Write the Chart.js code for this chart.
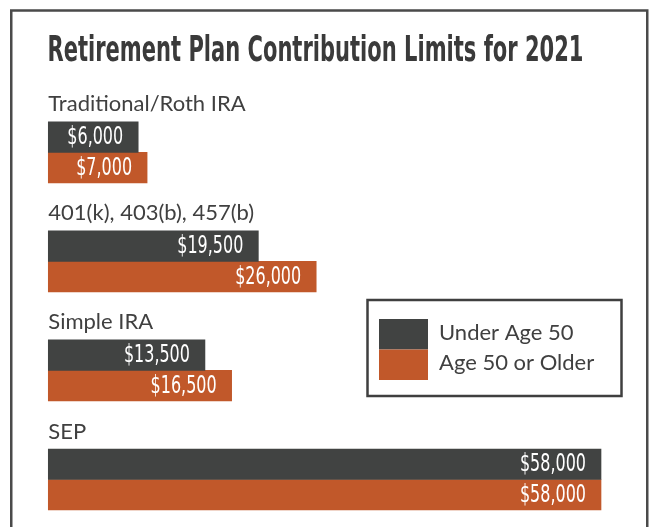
<!DOCTYPE html>
<html>
<head>
<meta charset="utf-8">
<script src="https://cdn.jsdelivr.net/npm/chart.js@4"></script>
<style>
    body { margin: 0; background: #ffffff; overflow: hidden; }
    #myChart { display: block; }
</style>
</head>
<body>
<canvas id="myChart" width="649" height="527"></canvas>
<script>
//-----------------------------------------------------------------
//DATA
const chartTitle = 'Retirement Plan Contribution Limits for 2021';
const categories = ['Traditional/Roth IRA', '401(k), 403(b), 457(b)', 'Simple IRA', 'SEP'];
const seriesNames = ['Under Age 50', 'Age 50 or Older'];
const under50 = [6000, 19500, 13500, 58000];
const over50 = [7000, 26000, 16500, 58000];

const darkColor = '#414342';
const orangeColor = '#c1582a';
const textColor = '#404040';
const narrowFont = "'Liberation Sans Narrow', 'DejaVu Sans Condensed', sans-serif";
const labelFont = "Lato, 'Open Sans', sans-serif";

const xMin = -4100; // bars do not start at zero in the original graphic
const barThick = 30.5;

function money(v) {
    return '$' + v.toLocaleString('en-US');
}

// draw text squeezed horizontally to a given width
function drawFit(ctx, text, x, y, width) {
    const w = ctx.measureText(text).width;
    ctx.save();
    ctx.translate(x, y);
    ctx.scale(width / w, 1);
    ctx.fillText(text, 0, 0);
    ctx.restore();
}

// squeeze by a fixed factor (no condensed font installed)
function drawNarrow(ctx, text, x, y, factor) {
    ctx.save();
    ctx.translate(x, y);
    ctx.scale(factor, 1);
    ctx.fillText(text, 0, 0);
    ctx.restore();
}

//-----------------------------------------------------------------
//PLUGINS
const framePlugin = {
    id: 'frame',
    beforeDraw(chart) {
        const ctx = chart.ctx;
        ctx.save();
        ctx.fillStyle = '#ffffff';
        ctx.fillRect(0, 0, chart.width, chart.height);
        ctx.strokeStyle = '#4a4a4a';
        ctx.lineWidth = 2.5;
        ctx.strokeRect(11.25, 10.5, 636, 560);
        // title
        ctx.fillStyle = '#3a3a3a';
        ctx.font = 'bold 36px ' + narrowFont;
        ctx.textBaseline = 'alphabetic';
        ctx.textAlign = 'left';
        drawFit(ctx, chartTitle, 47.5, 60.5, 536);
        ctx.restore();
    }
};

const labelPlugin = {
    id: 'labels',
    afterDatasetsDraw(chart) {
        const ctx = chart.ctx;
        const yScale = chart.scales.y;
        ctx.save();
        // category names above each group
        ctx.fillStyle = textColor;
        ctx.font = '22px ' + labelFont;
        ctx.textAlign = 'left';
        ctx.textBaseline = 'alphabetic';
        categories.forEach((c, i) => {
            const y = yScale.getPixelForValue(i) - barThick - 10.5;
            ctx.fillText(c, chart.chartArea.left, y);
        });
        // values inside the bar ends
        ctx.fillStyle = '#ffffff';
        ctx.font = '24px ' + narrowFont;
        ctx.textAlign = 'right';
        ctx.textBaseline = 'middle';
        chart.data.datasets.forEach((ds, d) => {
            const meta = chart.getDatasetMeta(d);
            meta.data.forEach((bar, i) => {
                drawNarrow(ctx, money(ds.data[i]), bar.x - 15, bar.y + 1, 0.74);
            });
        });
        ctx.restore();
    }
};

const legendPlugin = {
    id: 'boxLegend',
    afterDraw(chart) {
        const ctx = chart.ctx;
        ctx.save();
        ctx.strokeStyle = '#3f3f3f';
        ctx.lineWidth = 2.5;
        ctx.strokeRect(367.5, 300, 254, 96);
        ctx.font = '22px ' + labelFont;
        ctx.textAlign = 'left';
        ctx.textBaseline = 'alphabetic';
        chart.data.datasets.forEach((ds, d) => {
            ctx.fillStyle = ds.backgroundColor;
            ctx.fillRect(379, 319 + d * 30.5, 49, 30.5);
            ctx.fillStyle = textColor;
            ctx.fillText(ds.label, 439, 340 + d * 30);
        });
        ctx.restore();
    }
};

//-----------------------------------------------------------------
//CHART
const ctxs = document.getElementById('myChart').getContext('2d');

const myChart = new Chart(ctxs, {
    type: 'bar',
    data: {
        labels: categories,
        datasets: [
            {
                label: seriesNames[0],
                data: under50,
                backgroundColor: darkColor,
                base: xMin,
                barThickness: barThick,
                clip: false,
            },
            {
                label: seriesNames[1],
                data: over50,
                backgroundColor: orangeColor,
                base: xMin,
                barThickness: barThick,
                clip: false,
            },
        ],
    },
    options: {
        indexAxis: 'y',
        responsive: false,
        animation: false,
        devicePixelRatio: 1,
        layout: {
            padding: { left: 48.3, right: 48, top: 152.3, bottom: 47.5 }
        },
        scales: {
            x: {
                type: 'linear',
                min: xMin,
                max: 58000,
                display: false,
            },
            y: {
                type: 'category',
                offset: false,
                display: false,
            },
        },
        plugins: {
            legend: { display: false },
            title: { display: false },
            tooltip: { enabled: false },
        },
    },
    plugins: [framePlugin, labelPlugin, legendPlugin],
});
</script>
</body>
</html>
